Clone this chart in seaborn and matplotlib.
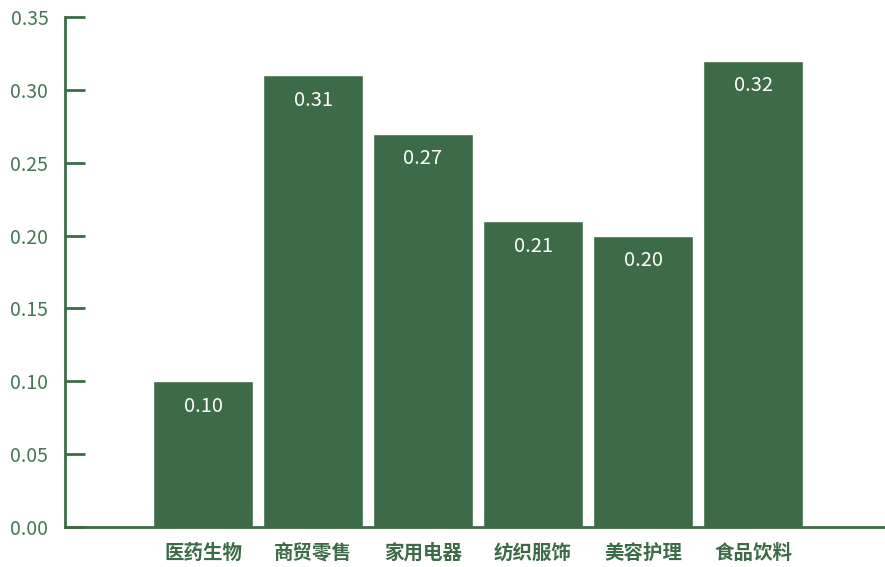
import matplotlib
matplotlib.use("Agg")
import matplotlib.pyplot as plt
import seaborn as sns
import pandas as pd

categories = ["医药生物", "商贸零售", "家用电器", "纺织服饰", "美容护理", "食品饮料"]
values = [0.10, 0.31, 0.27, 0.21, 0.20, 0.32]
y_ticks = [0.00, 0.05, 0.10, 0.15, 0.20, 0.25, 0.30, 0.35]

GREEN = "#3d6b47"
LABEL_GREEN = "#487656"

sns.set_style("white")
plt.rcParams["font.family"] = ["Noto Sans CJK SC", "DejaVu Sans"]

df = pd.DataFrame({"sector": categories, "value": values})

W, H = 885, 567
fig = plt.figure(figsize=(W / 100, H / 100), dpi=100)
ax = fig.add_axes([65 / W, 40 / H, 820 / W, 510 / H])

sns.barplot(data=df, x="sector", y="value", color=GREEN, saturation=1,
            width=100 / 110, ax=ax, errorbar=None)

ax.set_xlim(-1.255, 6.2)
ax.set_ylim(0, 0.35)
ax.set_yticks(y_ticks)
ax.set_yticklabels([f"{t:.2f}" for t in y_ticks])
ax.set_xlabel("")
ax.set_ylabel("")

for side in ["top", "right"]:
    ax.spines[side].set_visible(False)
for side in ["left", "bottom"]:
    ax.spines[side].set_color(GREEN)
    ax.spines[side].set_linewidth(2)

ax.tick_params(axis="y", left=True, direction="in", length=14.4, width=2,
               color=GREEN, labelcolor=LABEL_GREEN, labelsize=14, pad=12)
ax.tick_params(axis="x", bottom=False, length=0, labelcolor=GREEN,
               labelsize=14, pad=12)
for lbl in ax.get_xticklabels():
    lbl.set_fontweight("bold")

# value labels inside the top of each bar
for patch, v in zip(ax.patches, values):
    x = patch.get_x() + patch.get_width() / 2
    ax.annotate(f"{v:.2f}", xy=(x, v), xytext=(0, -18), textcoords="offset points",
                ha="center", va="center", color="white", fontsize=14.5)

fig.savefig("out.png", dpi=100)
